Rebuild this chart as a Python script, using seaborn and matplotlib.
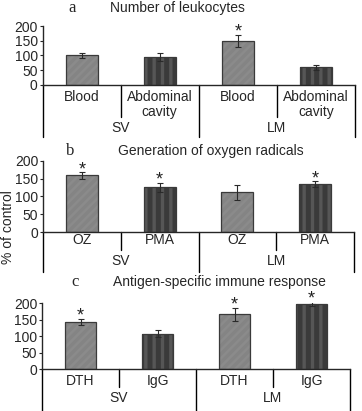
import numpy as np
import pandas as pd
import matplotlib
matplotlib.use("Agg")
import matplotlib.pyplot as plt
import matplotlib.transforms as mtransforms
from matplotlib.patches import Rectangle
import seaborn as sns

# ── data ─────────────────────────────────────────────────────
GROUPS = ["SV", "SV", "LM", "LM"]
KINDS = ["light", "dark", "light", "dark"]

A_TITLE = "Number of leukocytes"
A_SUB = ["Blood", "Abdominal\ncavity", "Blood", "Abdominal\ncavity"]
A_VAL = [100, 95, 150, 60]
A_ERR = [10, 13, 21, 8]
A_SIG = [False, False, True, False]

B_TITLE = "Generation of oxygen radicals"
B_SUB = ["OZ", "PMA", "OZ", "PMA"]
B_VAL = [159, 125, 112, 134]
B_ERR = [9, 13, 21, 8]
B_SIG = [True, True, False, True]

C_TITLE = "Antigen-specific immune response"
C_SUB = ["DTH", "IgG", "DTH", "IgG"]
C_VAL = [143, 108, 166, 199]
C_ERR = [10, 12, 21, 6]
C_SIG = [True, False, True, True]

Y_TICKS = [0, 50, 100, 150, 200]

# ── style ────────────────────────────────────────────────────
sns.set_style("ticks")
plt.rcParams["font.family"] = ["Liberation Sans", "DejaVu Sans"]
plt.rcParams["hatch.linewidth"] = 2.4

W, H = 362, 411
FILL = {"light": "#8b8b8b", "dark": "#3a3a3a"}
HATCH = {"light": "////", "dark": "||"}
HATCH_COL = {"light": "#848484", "dark": "#565656"}

# panel layout in pixels: left, right, y of 0, y of 200, sub-line, group-line,
# sub-label top offset, group-label centre offset, title x, letter x
PANELS = [
    dict(letter="a", title=A_TITLE, sub=A_SUB, val=A_VAL, err=A_ERR, sig=A_SIG,
         left=42.5, right=355, y0=85, y200=26, sub_len=32, grp_len=52,
         sub_off=5, grp_off=43, title_x=110, letter_x=72, title_y=8),
    dict(letter="b", title=B_TITLE, sub=B_SUB, val=B_VAL, err=B_ERR, sig=B_SIG,
         left=43, right=354, y0=232, y200=160.7, sub_len=18, grp_len=40,
         sub_off=1, grp_off=29, title_x=118, letter_x=70, title_y=151),
    dict(letter="c", title=C_TITLE, sub=C_SUB, val=C_VAL, err=C_ERR, sig=C_SIG,
         left=42, right=350, y0=369, y200=303.3, sub_len=18, grp_len=42,
         sub_off=5, grp_off=28.5, title_x=113, letter_x=75, title_y=282),
]

fig = plt.figure(figsize=(W / 100, H / 100), dpi=100)

for p in PANELS:
    ax_h = p["y0"] - p["y200"]
    ax = fig.add_axes([p["left"] / W, 1 - p["y0"] / H,
                       (p["right"] - p["left"]) / W, ax_h / H])

    slots = [f"{g}|{s}" for g, s in zip(GROUPS, p["sub"])]
    df = pd.DataFrame({"slot": slots, "value": p["val"], "kind": KINDS})
    sns.barplot(data=df, x="slot", y="value", hue="kind", order=slots,
                hue_order=["light", "dark"], palette=FILL, dodge=False,
                width=0.41, errorbar=None, legend=False, ax=ax)

    # stripes + dark outline
    for kind, cont in zip(["light", "dark"], ax.containers):
        for bar in cont:
            bar.set_hatch(HATCH[kind])
            bar.set_edgecolor(HATCH_COL[kind])
            bar.set_linewidth(0)
            ax.add_patch(Rectangle(bar.get_xy(), bar.get_width(), bar.get_height(),
                                   fill=False, edgecolor="#3a3a3a", lw=0.9, zorder=3))

    xs = np.arange(len(slots))
    ax.errorbar(xs, p["val"], yerr=p["err"], fmt="none", ecolor="#2a2a2a",
                elinewidth=0.8, capsize=2, capthick=0.8, zorder=4)
    for x, v, e, s in zip(xs, p["val"], p["err"], p["sig"]):
        if s:
            ax.annotate("*", xy=(x, v + e), xytext=(0, -2), textcoords="offset pixels",
                        ha="center", va="baseline", fontsize=13, color="#222222",
                        annotation_clip=False)

    ax.set_ylim(0, 200)
    ax.set_yticks(Y_TICKS)
    ax.set_xticks([])
    ax.set_xlabel("")
    ax.set_ylabel("")
    ax.tick_params(axis="y", labelsize=10, length=2.5, width=0.8, pad=1)
    sns.despine(ax=ax, top=True, right=True)
    ax.spines["left"].set_linewidth(1.0)
    ax.spines["bottom"].set_linewidth(1.0)

    # category table below the axis
    trans = mtransforms.blended_transform_factory(ax.transData, ax.transAxes)
    sub_f = -p["sub_len"] / ax_h
    grp_f = -p["grp_len"] / ax_h
    for xb in [0.5, 2.5]:
        ax.plot([xb, xb], [0, sub_f], color="black", lw=1.0, transform=trans,
                clip_on=False, scalex=False, scaley=False)
    for xb in [-0.5, 1.5, 3.5]:
        ax.plot([xb, xb], [0, grp_f], color="black", lw=1.0, transform=trans,
                clip_on=False, scalex=False, scaley=False)

    for x, lab in zip(xs, p["sub"]):
        ax.annotate(lab, xy=(x, 0), xycoords=trans, xytext=(0, -p["sub_off"]),
                    textcoords="offset pixels", ha="center", va="top",
                    fontsize=10, linespacing=1.05, annotation_clip=False)
    for gx, g in zip([0.5, 2.5], ["SV", "LM"]):
        ax.annotate(g, xy=(gx, 0), xycoords=trans, xytext=(0, -p["grp_off"]),
                    textcoords="offset pixels", ha="center", va="center",
                    fontsize=10, annotation_clip=False)

    ax.set_xlim(-0.5, len(slots) - 0.5)

    fig.text(p["letter_x"] / W, 1 - p["title_y"] / H, p["letter"], ha="center",
             va="center", fontsize=12, family=["Liberation Serif", "DejaVu Serif"])
    fig.text(p["title_x"] / W, 1 - p["title_y"] / H, p["title"], ha="left",
             va="center", fontsize=10)

fig.text(8 / W, 1 - 227 / H, "% of control", rotation=90, ha="center",
         va="center", fontsize=10)

fig.savefig("out.png", dpi=100)
